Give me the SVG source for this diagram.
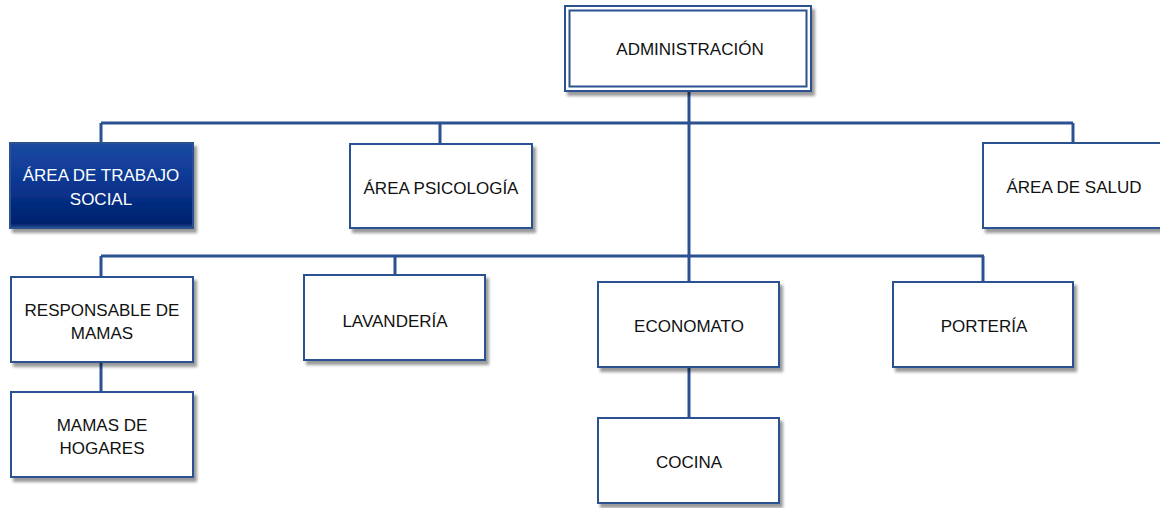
<svg xmlns="http://www.w3.org/2000/svg" width="1160" height="508" viewBox="0 0 1160 508">
<defs>
<filter id="sh" x="-10%" y="-10%" width="130%" height="140%">
<feDropShadow dx="3" dy="4" stdDeviation="1.5" flood-color="#000" flood-opacity="0.4"/>
</filter>
<linearGradient id="dk" x1="0" y1="0" x2="0" y2="1">
<stop offset="0" stop-color="#1c4aa2"/>
<stop offset="0.5" stop-color="#0a3590"/>
<stop offset="0.95" stop-color="#00216c"/>
<stop offset="1" stop-color="#2a4f95"/>
</linearGradient>
</defs>
<style>
.box{fill:#fff;stroke:#2c5190;stroke-width:2;filter:url(#sh)}
.dark{fill:url(#dk);stroke:#2c5190;stroke-width:2;filter:url(#sh)}
.t{font-family:"Liberation Sans",Arial,sans-serif;font-size:17px;fill:#111;text-anchor:middle}
.tw{fill:#fff}
.c{stroke:#2c5190;stroke-width:3;fill:none}
</style>
<rect width="1160" height="508" fill="#fff"/>
<g id="connectors">
<line class="c" x1="689" y1="90" x2="689" y2="282"/>
<line class="c" x1="101" y1="123" x2="1073" y2="123"/>
<line class="c" x1="101" y1="123" x2="101" y2="143"/>
<line class="c" x1="440" y1="123" x2="440" y2="144"/>
<line class="c" x1="1073" y1="123" x2="1073" y2="143"/>
<line class="c" x1="101" y1="256" x2="984" y2="256"/>
<line class="c" x1="101" y1="256" x2="101" y2="277"/>
<line class="c" x1="395" y1="256" x2="395" y2="275"/>
<line class="c" x1="983" y1="256" x2="983" y2="282"/>
<line class="c" x1="101" y1="362" x2="101" y2="392"/>
<line class="c" x1="689" y1="367" x2="689" y2="418"/>
</g>
<g id="admin">
<rect class="box" x="565" y="6" width="246" height="85"/>
<rect x="569.5" y="10.5" width="237" height="76" fill="none" stroke="#2c5190" stroke-width="2"/>
<text class="t" x="690" y="55">ADMINISTRACIÓN</text>
</g>
<g id="trabajo-social">
<rect class="dark" x="10" y="143" width="183" height="85"/>
<text class="t tw" x="101" y="181">ÁREA DE TRABAJO</text>
<text class="t tw" x="101" y="205">SOCIAL</text>
</g>
<g id="psicologia">
<rect class="box" x="350" y="144" width="182" height="84"/>
<text class="t" x="441" y="194">ÁREA PSICOLOGÍA</text>
</g>
<g id="salud">
<rect class="box" x="983" y="143" width="185" height="85"/>
<text class="t" x="1074" y="193">ÁREA DE SALUD</text>
</g>
<g id="responsable">
<rect class="box" x="11" y="277" width="182" height="85"/>
<text class="t" x="102" y="316">RESPONSABLE DE</text>
<text class="t" x="102" y="339">MAMAS</text>
</g>
<g id="mamas-hogares">
<rect class="box" x="11" y="392" width="182" height="85"/>
<text class="t" x="102" y="431">MAMAS DE</text>
<text class="t" x="102" y="454">HOGARES</text>
</g>
<g id="lavanderia">
<rect class="box" x="304" y="275" width="181" height="85"/>
<text class="t" x="395" y="327">LAVANDERÍA</text>
</g>
<g id="economato">
<rect class="box" x="598" y="282" width="181" height="85"/>
<text class="t" x="689" y="332">ECONOMATO</text>
</g>
<g id="cocina">
<rect class="box" x="598" y="418" width="181" height="85"/>
<text class="t" x="689" y="468">COCINA</text>
</g>
<g id="porteria">
<rect class="box" x="893" y="282" width="180" height="85"/>
<text class="t" x="984" y="332">PORTERÍA</text>
</g>
</svg>
